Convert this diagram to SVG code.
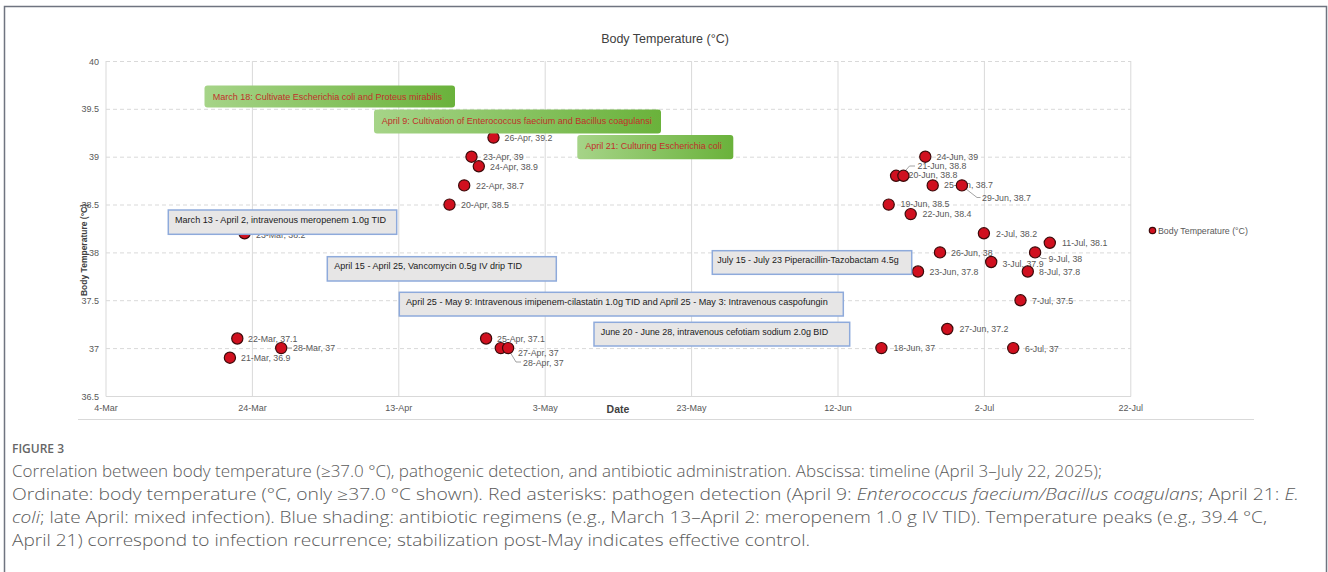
<svg xmlns="http://www.w3.org/2000/svg" width="1328" height="572" viewBox="0 0 1328 572">
<style>
.ax{font-family:"Liberation Sans",Arial,sans-serif;font-size:9px;fill:#595959}
.lbl{font-family:"Liberation Sans",Arial,sans-serif;font-size:8.8px;fill:#595959}
.dot{fill:#d0101f;stroke:#3c0a0a;stroke-width:1.2}
.gridh{stroke:#d9d9d9;stroke-width:1;stroke-dasharray:4 3}
.gridv{stroke:#d9d9d9;stroke-width:1}
.gbox{fill:url(#gg)}
.gtxt{font-family:"Liberation Sans",Arial,sans-serif;font-size:9.5px;fill:#c0302a}
.bbox{fill:#e7e6e6;stroke:#8eaadb;stroke-width:1.5}
.btxt{font-family:"Liberation Sans",Arial,sans-serif;font-size:9.5px;fill:#1a1a1a}
.lead{fill:none;stroke:#8c8c8c;stroke-width:0.8}
.cap{font-family:"Open Sans","Noto Sans","Liberation Sans",sans-serif;font-size:15.5px;fill:#5a5a5a;font-weight:300}
</style>
<defs>
<linearGradient id="gg" x1="0" y1="0" x2="1" y2="0">
<stop offset="0" stop-color="#a6d488"/>
<stop offset="1" stop-color="#6ab23b"/>
</linearGradient>
</defs>
<rect x="0" y="0" width="1328" height="572" fill="#ffffff"/>
<rect x="4.5" y="6.5" width="1322" height="580" fill="none" stroke="#6f7480" stroke-width="1.5"/>

<g id="chart-frame">
<text x="665" y="43" text-anchor="middle" style="font-family:'Liberation Sans',Arial,sans-serif;font-size:12.5px;fill:#404040">Body Temperature (°C)</text>
<line class="gridh" x1="106" y1="61.5" x2="1131" y2="61.5"/>
<line class="gridh" x1="106" y1="109.3" x2="1131" y2="109.3"/>
<line class="gridh" x1="106" y1="157.2" x2="1131" y2="157.2"/>
<line class="gridh" x1="106" y1="205" x2="1131" y2="205"/>
<line class="gridh" x1="106" y1="252.9" x2="1131" y2="252.9"/>
<line class="gridh" x1="106" y1="300.7" x2="1131" y2="300.7"/>
<line class="gridh" x1="106" y1="348.6" x2="1131" y2="348.6"/>
<line x1="106" y1="396.5" x2="1131" y2="396.5" stroke="#d9d9d9" stroke-width="1.2"/>
<line class="gridv" x1="106" y1="61" x2="106" y2="396.5"/>
<line class="gridv" x1="252.4" y1="61" x2="252.4" y2="396.5"/>
<line class="gridv" x1="398.8" y1="61" x2="398.8" y2="396.5"/>
<line class="gridv" x1="545.2" y1="61" x2="545.2" y2="396.5"/>
<line class="gridv" x1="691.6" y1="61" x2="691.6" y2="396.5"/>
<line class="gridv" x1="838" y1="61" x2="838" y2="396.5"/>
<line class="gridv" x1="984.4" y1="61" x2="984.4" y2="396.5"/>
<line class="gridv" x1="1130.8" y1="61" x2="1130.8" y2="396.5"/>
<line x1="78" y1="419.5" x2="1254" y2="419.5" stroke="#d9d9d9" stroke-width="1.2"/>
<g text-anchor="end">
<text class="ax" x="99" y="64.5">40</text>
<text class="ax" x="99" y="112.3">39.5</text>
<text class="ax" x="99" y="160.2">39</text>
<text class="ax" x="99" y="208">38.5</text>
<text class="ax" x="99" y="255.9">38</text>
<text class="ax" x="99" y="303.7">37.5</text>
<text class="ax" x="99" y="351.6">37</text>
<text class="ax" x="99" y="399.5">36.5</text>
</g>
<g text-anchor="middle">
<text class="ax" x="106" y="410.5">4-Mar</text>
<text class="ax" x="252.4" y="410.5">24-Mar</text>
<text class="ax" x="398.8" y="410.5">13-Apr</text>
<text class="ax" x="545.2" y="410.5">3-May</text>
<text class="ax" x="691.6" y="410.5">23-May</text>
<text class="ax" x="838" y="410.5">12-Jun</text>
<text class="ax" x="984.4" y="410.5">2-Jul</text>
<text class="ax" x="1130.8" y="410.5">22-Jul</text>
</g>
<text x="618" y="413" text-anchor="middle" style="font-family:'Liberation Sans',Arial,sans-serif;font-size:10.5px;font-weight:bold;fill:#404040">Date</text>
<text transform="translate(87,250) rotate(-90)" text-anchor="middle" style="font-family:'Liberation Sans',Arial,sans-serif;font-size:8.5px;font-weight:bold;fill:#404040">Body Temperature (°C)</text>
</g>

<g id="legend">
<circle class="dot" cx="1152.5" cy="230.5" r="3.2"/>
<text class="lbl" x="1158" y="233.5">Body Temperature (°C)</text>
</g>

<g id="connectors">
<polyline class="lead" points="287,348 292,348"/>
<polyline class="lead" points="510,352 516,362 521,362"/>
<polyline class="lead" points="903.5,173 909.5,166 915,166"/>
<polyline class="lead" points="963.5,187 977,197.5 980.5,197.5"/>
<polyline class="lead" points="1037,255 1042,258.5 1046.5,258.5"/>
</g>

<g id="data-points">
<g id="p-21mar"><circle class="dot" cx="229.9" cy="357.7" r="5.6"/><text class="lbl" x="241" y="360.7">21-Mar, 36.9</text></g>
<g id="p-22mar"><circle class="dot" cx="237.3" cy="338.5" r="5.6"/><text class="lbl" x="248" y="341.5">22-Mar, 37.1</text></g>
<g id="p-23mar"><circle class="dot" cx="244.6" cy="233.3" r="5.6"/><text class="lbl" x="256" y="237.5">23-Mar, 38.2</text></g>
<g id="p-28mar"><circle class="dot" cx="281.2" cy="348.1" r="5.6"/><text class="lbl" x="293" y="351">28-Mar, 37</text></g>
<g id="p-20apr"><circle class="dot" cx="449.5" cy="204.6" r="5.6"/><text class="lbl" x="461" y="207.5">20-Apr, 38.5</text></g>
<g id="p-22apr"><circle class="dot" cx="464.2" cy="185.4" r="5.6"/><text class="lbl" x="476" y="188.5">22-Apr, 38.7</text></g>
<g id="p-23apr"><circle class="dot" cx="471.5" cy="156.7" r="5.6"/><text class="lbl" x="483" y="159.5">23-Apr, 39</text></g>
<g id="p-24apr"><circle class="dot" cx="478.8" cy="166.3" r="5.6"/><text class="lbl" x="490" y="169.5">24-Apr, 38.9</text></g>
<g id="p-25apr"><circle class="dot" cx="486.1" cy="338.5" r="5.6"/><text class="lbl" x="497" y="342">25-Apr, 37.1</text></g>
<g id="p-26apr"><circle class="dot" cx="493.5" cy="137.6" r="5.6"/><text class="lbl" x="504.5" y="140.5">26-Apr, 39.2</text></g>
<g id="p-27apr"><circle class="dot" cx="500.8" cy="348.1" r="5.6"/><text class="lbl" x="518" y="355.5">27-Apr, 37</text></g>
<g id="p-28apr"><circle class="dot" cx="508.1" cy="348.1" r="5.6"/><text class="lbl" x="523" y="366">28-Apr, 37</text></g>
<g id="p-18jun"><circle class="dot" cx="881.4" cy="348.1" r="5.6"/><text class="lbl" x="893.5" y="351">18-Jun, 37</text></g>
<g id="p-19jun"><circle class="dot" cx="888.7" cy="204.6" r="5.6"/><text class="lbl" x="900.5" y="207">19-Jun, 38.5</text></g>
<g id="p-20jun"><circle class="dot" cx="896.1" cy="175.8" r="5.6"/><text class="lbl" x="908.5" y="178">20-Jun, 38.8</text></g>
<g id="p-21jun"><circle class="dot" cx="903.4" cy="175.8" r="5.6"/><text class="lbl" x="917.5" y="168.5">21-Jun, 38.8</text></g>
<g id="p-22jun"><circle class="dot" cx="910.7" cy="214.1" r="5.6"/><text class="lbl" x="922.5" y="217">22-Jun, 38.4</text></g>
<g id="p-23jun"><circle class="dot" cx="918" cy="271.5" r="5.6"/><text class="lbl" x="929.5" y="275">23-Jun, 37.8</text></g>
<g id="p-24jun"><circle class="dot" cx="925.3" cy="156.7" r="5.6"/><text class="lbl" x="936.5" y="160">24-Jun, 39</text></g>
<g id="p-25jun"><circle class="dot" cx="932.7" cy="185.4" r="5.6"/><text class="lbl" x="944" y="188">25-Jun, 38.7</text></g>
<g id="p-26jun"><circle class="dot" cx="940" cy="252.4" r="5.6"/><text class="lbl" x="951" y="255.5">26-Jun, 38</text></g>
<g id="p-27jun"><circle class="dot" cx="947.3" cy="329" r="5.6"/><text class="lbl" x="959.5" y="332">27-Jun, 37.2</text></g>
<g id="p-29jun"><circle class="dot" cx="961.9" cy="185.4" r="5.6"/><text class="lbl" x="982" y="201">29-Jun, 38.7</text></g>
<g id="p-2jul"><circle class="dot" cx="983.9" cy="233.3" r="5.6"/><text class="lbl" x="996" y="236.5">2-Jul, 38.2</text></g>
<g id="p-3jul"><circle class="dot" cx="991.2" cy="262" r="5.6"/><text class="lbl" x="1002.5" y="266.5">3-Jul, 37.9</text></g>
<g id="p-6jul"><circle class="dot" cx="1013.2" cy="348.1" r="5.6"/><text class="lbl" x="1025" y="351.5">6-Jul, 37</text></g>
<g id="p-7jul"><circle class="dot" cx="1020.5" cy="300.3" r="5.6"/><text class="lbl" x="1032" y="303.5">7-Jul, 37.5</text></g>
<g id="p-8jul"><circle class="dot" cx="1027.8" cy="271.5" r="5.6"/><text class="lbl" x="1039" y="275">8-Jul, 37.8</text></g>
<g id="p-9jul"><circle class="dot" cx="1035.1" cy="252.4" r="5.6"/><text class="lbl" x="1048.5" y="261.5">9-Jul, 38</text></g>
<g id="p-11jul"><circle class="dot" cx="1049.8" cy="242.8" r="5.6"/><text class="lbl" x="1062" y="246">11-Jul, 38.1</text></g>
</g>

<g id="culture-mar18"><rect class="gbox" x="204.5" y="85.5" width="250.5" height="22" rx="3"/><text class="gtxt" x="212.7" y="100" textLength="229.3" lengthAdjust="spacingAndGlyphs">March 18: Cultivate Escherichia coli and Proteus mirabilis</text></g>
<g id="culture-apr9"><rect class="gbox" x="374" y="109.5" width="287" height="24" rx="3"/><text class="gtxt" x="381.7" y="123.5" textLength="270" lengthAdjust="spacingAndGlyphs">April 9: Cultivation of Enterococcus faecium and Bacillus coagulansi</text></g>
<g id="culture-apr21"><rect class="gbox" x="577.3" y="135" width="156" height="24.3" rx="3"/><text class="gtxt" x="585.3" y="148.7" textLength="136.4" lengthAdjust="spacingAndGlyphs">April 21: Culturing Escherichia coli</text></g>

<g id="regimen-meropenem"><rect class="bbox" x="168.3" y="210" width="228.4" height="24.3"/><text class="btxt" x="175" y="223.4" textLength="211" lengthAdjust="spacingAndGlyphs">March 13 - April 2, intravenous meropenem 1.0g TID</text></g>
<g id="regimen-vancomycin"><rect class="bbox" x="327.3" y="256.7" width="229" height="24.3"/><text class="btxt" x="334.3" y="269.4" textLength="187.7" lengthAdjust="spacingAndGlyphs">April 15 - April 25, Vancomycin 0.5g IV drip TID</text></g>
<g id="regimen-imipenem"><rect class="bbox" x="399.3" y="292.3" width="444" height="23.7"/><text class="btxt" x="406" y="305.1" textLength="421.7" lengthAdjust="spacingAndGlyphs">April 25 - May 9: Intravenous imipenem-cilastatin 1.0g TID and April 25 - May 3: Intravenous caspofungin</text></g>
<g id="regimen-cefotiam"><rect class="bbox" x="594" y="322.3" width="255.7" height="23.7"/><text class="btxt" x="600.7" y="335.1" textLength="227.6" lengthAdjust="spacingAndGlyphs">June 20 - June 28, intravenous cefotiam sodium 2.0g BID</text></g>
<g id="regimen-piperacillin"><rect class="bbox" x="712.3" y="250.7" width="199.4" height="23.6"/><text class="btxt" x="717.3" y="263.4" textLength="181.4" lengthAdjust="spacingAndGlyphs">July 15 - July 23 Piperacillin-Tazobactam 4.5g</text></g>

<g id="caption">
<text x="12" y="452.5" style="font-family:'Open Sans','Noto Sans','Liberation Sans',sans-serif;font-size:12px;fill:#666666;font-weight:600">FIGURE 3</text>
<text class="cap" x="12" y="476.5" textLength="1090" lengthAdjust="spacingAndGlyphs">Correlation between body temperature (≥37.0 °C), pathogenic detection, and antibiotic administration. Abscissa: timeline (April 3–July 22, 2025);</text>
<text class="cap" x="12" y="499.5" textLength="1287" lengthAdjust="spacingAndGlyphs">Ordinate: body temperature (°C, only ≥37.0 °C shown). Red asterisks: pathogen detection (April 9: <tspan font-style="italic">Enterococcus faecium/Bacillus coagulans</tspan>; April 21: <tspan font-style="italic">E.</tspan></text>
<text class="cap" x="12" y="522.5" textLength="1255" lengthAdjust="spacingAndGlyphs"><tspan font-style="italic">coli</tspan>; late April: mixed infection). Blue shading: antibiotic regimens (e.g., March 13–April 2: meropenem 1.0 g IV TID). Temperature peaks (e.g., 39.4 °C,</text>
<text class="cap" x="12" y="545.5" textLength="798" lengthAdjust="spacingAndGlyphs">April 21) correspond to infection recurrence; stabilization post-May indicates effective control.</text>
</g>
</svg>
